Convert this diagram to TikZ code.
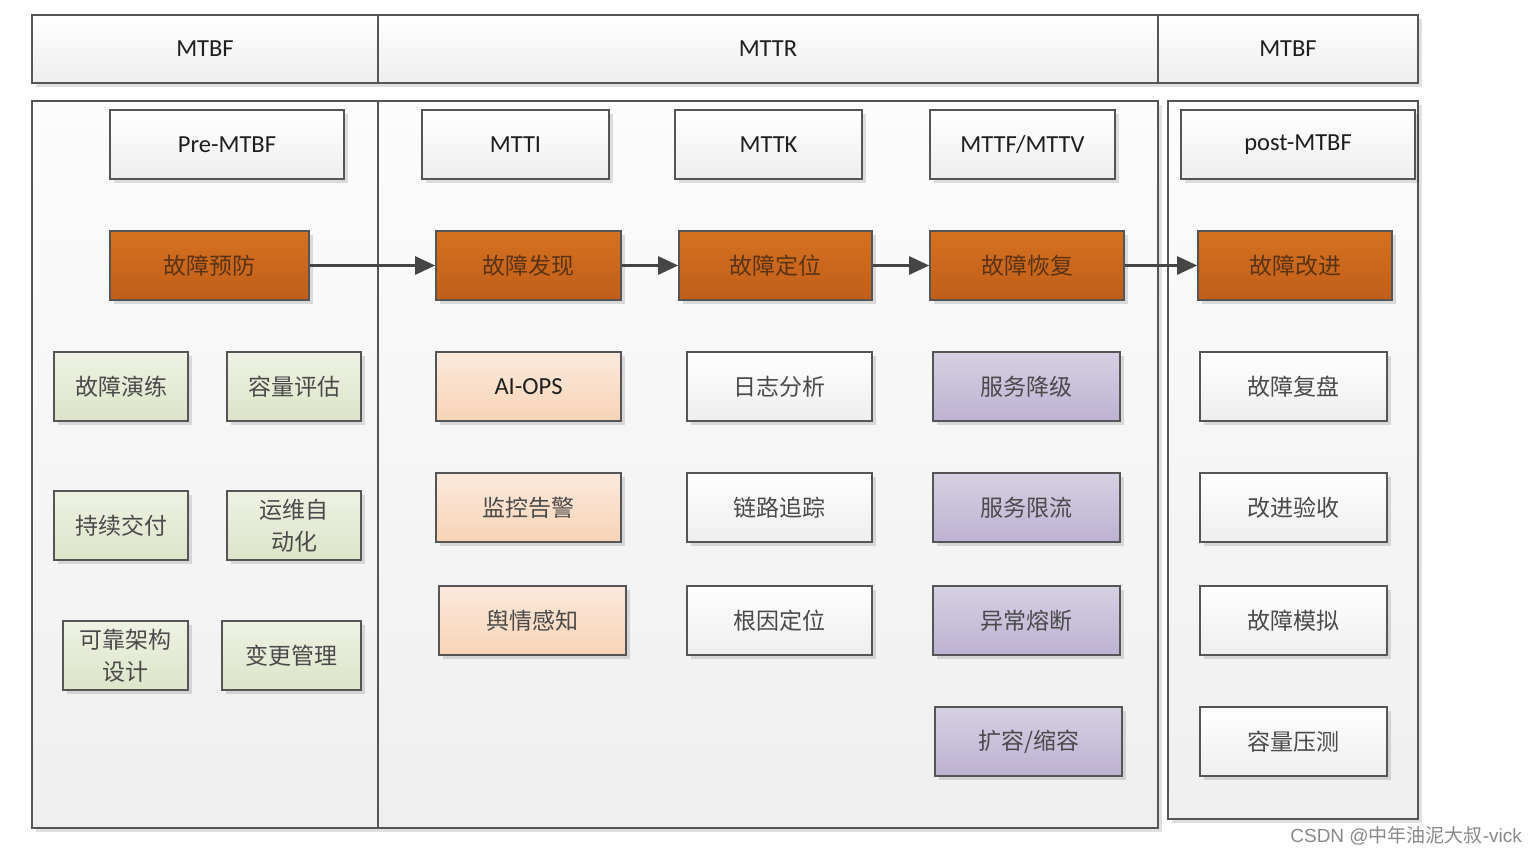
\documentclass[tikz,border=0pt]{standalone}
\usepackage{fontspec}
\setmainfont{Carlito}
\newfontfamily\cjk{Noto Sans CJK SC}
\newfontfamily\wmfont{Liberation Sans}
\usetikzlibrary{arrows.meta,shadows}
\definecolor{linec}{HTML}{555555}
\definecolor{grayB}{HTML}{EEEEEE}
\definecolor{panelT}{HTML}{FCFCFC}
\definecolor{panelB}{HTML}{EFEFEF}
\definecolor{orT}{HTML}{D6711F}
\definecolor{orB}{HTML}{C05E1A}
\definecolor{orText}{HTML}{5A3315}
\definecolor{grT}{HTML}{EEF2E3}
\definecolor{grB}{HTML}{DCE4C8}
\definecolor{peT}{HTML}{FCE9DC}
\definecolor{peB}{HTML}{F7D3B6}
\definecolor{puT}{HTML}{D6D0E3}
\definecolor{puB}{HTML}{BDB2D2}
\definecolor{txtdark}{HTML}{1E1E1E}
\definecolor{txtcjk}{HTML}{4A4A4A}
\definecolor{arrowc}{HTML}{454545}
\definecolor{wmc}{HTML}{8A8A8A}
\tikzset{
  base/.style={draw=linec, line width=1.6pt, inner sep=0pt, align=center,
    drop shadow={shadow xshift=4pt, shadow yshift=-4pt, fill=black, opacity=0.12}},
  hbox/.style={base, top color=white, bottom color=grayB, text=txtdark,
    font=\fontsize{24.5}{29}\selectfont, minimum height=69pt},
  topcell/.style={hbox, minimum height=68pt},
  panelbox/.style={base, line width=1.8pt, top color=panelT, bottom color=panelB},
  cjkf/.style={font=\cjk\fontsize{23}{32}\selectfont},
  obox/.style={base, cjkf, top color=orT, bottom color=orB, text=orText, minimum height=69pt},
  gbox/.style={base, cjkf, top color=grT, bottom color=grB, text=txtcjk, minimum height=69pt},
  pbox/.style={base, top color=peT, bottom color=peB, text=txtcjk, minimum height=69pt},
  vbox/.style={base, cjkf, top color=puT, bottom color=puB, text=txtcjk, minimum height=69pt},
  wbox/.style={base, cjkf, top color=white, bottom color=grayB, text=txtcjk, minimum height=69pt},
  arr/.style={-{Triangle[length=20pt,width=18pt]}, line width=2.6pt, draw=arrowc},
}
\begin{document}
\begin{tikzpicture}[x=1pt,y=-1pt]
\useasboundingbox[fill=white] (0,0) rectangle (1537,855);
% top header row
\node[topcell, minimum width=346pt] (hMTBFa) at (205,49) {MTBF};
\node[topcell, minimum width=780pt] (hMTTR) at (768,49) {MTTR};
\node[topcell, minimum width=260pt] (hMTBFb) at (1288,49) {MTBF};
% panels
\node[panelbox, minimum width=346pt, minimum height=727pt] (pLeft) at (205,464.5) {};
\node[panelbox, minimum width=780pt, minimum height=727pt] (pMid) at (768,464.5) {};
\node[panelbox, minimum width=250pt, minimum height=718pt] (pRight) at (1293,460) {};
% header boxes
\node[hbox, minimum width=234pt] (preM) at (227,144.5) {Pre-MTBF};
\node[hbox, minimum width=187pt] (mtti) at (515.5,144.5) {MTTI};
\node[hbox, minimum width=187pt] (mttk) at (768.5,144.5) {MTTK};
\node[hbox, minimum width=185pt] (mttf) at (1022.5,144.5) {MTTF/MTTV};
\node[hbox, minimum width=234pt] (postM) at (1298,144.5) {post-MTBF};
% orange row
\node[obox, minimum width=199pt] (o1) at (209.5,265.5) {故障预防};
\node[obox, minimum width=185pt] (o2) at (528.5,265.5) {故障发现};
\node[obox, minimum width=193pt] (o3) at (775.5,265.5) {故障定位};
\node[obox, minimum width=194pt] (o4) at (1027,265.5) {故障恢复};
\node[obox, minimum width=194pt] (o5) at (1295,265.5) {故障改进};
% left green boxes
\node[gbox, minimum width=134pt] (g1) at (121,386.5) {故障演练};
\node[gbox, minimum width=134pt] (g2) at (294,386.5) {容量评估};
\node[gbox, minimum width=134pt] (g3) at (121,525.5) {持续交付};
\node[gbox, minimum width=134pt] (g4) at (294,525.5) {运维自\\动化};
\node[gbox, minimum width=125pt] (g5) at (125.5,655.5) {可靠架构\\设计};
\node[gbox, minimum width=139pt] (g6) at (291.5,655.5) {变更管理};
% MTTI column
\node[pbox, font=\fontsize{24.5}{29}\selectfont, text=txtdark, minimum width=185pt] (p1) at (528.5,386.5) {AI-OPS};
\node[pbox, cjkf, minimum width=185pt] (p2) at (528.5,507.5) {监控告警};
\node[pbox, cjkf, minimum width=187pt] (p3) at (532.5,620.5) {舆情感知};
% MTTK column
\node[wbox, minimum width=185pt] (w1) at (779.5,386.5) {日志分析};
\node[wbox, minimum width=185pt] (w2) at (779.5,507.5) {链路追踪};
\node[wbox, minimum width=185pt] (w3) at (779.5,620.5) {根因定位};
% MTTF column
\node[vbox, minimum width=187pt] (v1) at (1026.5,386.5) {服务降级};
\node[vbox, minimum width=187pt] (v2) at (1026.5,507.5) {服务限流};
\node[vbox, minimum width=187pt] (v3) at (1026.5,620.5) {异常熔断};
\node[vbox, minimum width=187pt] (v4) at (1028.5,741.5) {扩容/缩容};
% post column
\node[wbox, minimum width=187pt] (r1) at (1293.5,386.5) {故障复盘};
\node[wbox, minimum width=187pt] (r2) at (1293.5,507.5) {改进验收};
\node[wbox, minimum width=187pt] (r3) at (1293.5,620.5) {故障模拟};
\node[wbox, minimum width=187pt] (r4) at (1293.5,741.5) {容量压测};
% arrows
\draw[arr] (o1.east) -- (o2.west);
\draw[arr] (o2.east) -- (o3.west);
\draw[arr] (o3.east) -- (o4.west);
\draw[arr] (o4.east) -- (o5.west);
% watermark
\node[anchor=east, text=wmc, inner sep=0pt, font=\wmfont\fontsize{19}{22}\selectfont] (wm) at (1522,836) {CSDN @{\cjk 中年油泥大叔}-vick};
\end{tikzpicture}
\end{document}
